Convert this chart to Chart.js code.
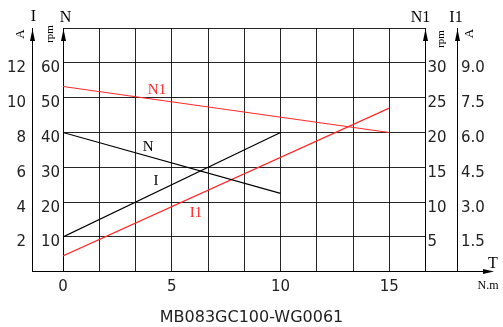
<!DOCTYPE html>
<html><head><meta charset="utf-8">
<script src="https://cdn.jsdelivr.net/npm/chart.js@4"></script>
<style>html,body{margin:0;padding:0;background:#fff}canvas{display:block}</style>
</head><body>
<canvas id="c" width="503" height="327"></canvas>
<script>
// ---- data ----
const torqueNI = [0, 10];          // N.m, for N and I curves
const speedN = [40, 22.5];         // rpm
const currentI = [2, 8];           // A
const torqueN1I1 = [0, 15];        // N.m, for N1 and I1 curves
const speedN1 = [26.6, 20];        // rpm
const currentI1 = [0.68, 7.05];    // A

// ---- ticks ----
const torqueTicks = [0, 5, 10, 15];
const speedTicks = [10, 20, 30, 40, 50, 60];
const currentTicks = [2, 4, 6, 8, 10, 12];
const speedN1Ticks = [5, 10, 15, 20, 25, 30];
const currentI1Ticks = [1.5, 3.0, 4.5, 6.0, 7.5, 9.0];
const torqueGridCount = 10;
const torqueMax = 50 / 3;
const speedMax = 70, speedN1Max = 35, currentMax = 14, currentI1Max = 10.5;
const chartTitle = 'MB083GC100-WG0061';

// curve name labels (in data units: torque, N-axis rpm)
const curveLabels = [
  { text: 'N1', t: 4.32, n: 52.1, color: '#ff2a2a' },
  { text: 'N',  t: 3.91, n: 35.9, color: '#000' },
  { text: 'I',  t: 4.28, n: 26.1, color: '#000' },
  { text: 'I1', t: 6.11, n: 16.8, color: '#ff2a2a' }
];

const RED = '#ff2a2a';
const GRID = 'rgba(0,0,0,0.85)';
const TICKFONT = { family: 'DejaVu Sans', size: 15 };
const SERIF = 'Liberation Serif';

function pts(xs, ys) { return xs.map((x, i) => ({ x, y: ys[i] })); }
function setTicks(list, max) {
  return function (scale) { scale.ticks = [0, ...list, max].map(v => ({ value: v })); };
}
function lbl(list, digits) {
  return function (v) {
    const r = Math.round(v * 1000) / 1000;
    return list.includes(r) ? (digits ? r.toFixed(digits) : String(r)) : '';
  };
}

const deco = {
  id: 'deco',
  afterDraw(chart) {
    const ctx = chart.ctx, s = chart.scales;
    const xA = s.x, yI = s.yI, yN = s.yN, yN1 = s.yN1, yI1 = s.yI1;
    const al = p => Math.round(p - 0.5) + 0.5;
    ctx.save();
    ctx.strokeStyle = '#000'; ctx.fillStyle = '#000'; ctx.lineWidth = 1;
    // extended T axis with arrow
    const by = al(xA.top);
    const tipX = 494;
    ctx.beginPath(); ctx.moveTo(al(yI.right), by); ctx.lineTo(tipX - 8, by); ctx.stroke();
    ctx.beginPath(); ctx.moveTo(tipX, by); ctx.lineTo(tipX - 11, by - 2.5); ctx.lineTo(tipX - 11, by + 2.5); ctx.closePath(); ctx.fill();
    // vertical axis arrows
    [al(yI.right), al(yN.right), al(yN1.left), al(yI1.left)].forEach(x => {
      ctx.beginPath(); ctx.moveTo(x, 29); ctx.lineTo(x - 2.5, 41); ctx.lineTo(x + 2.5, 41); ctx.closePath(); ctx.fill();
      ctx.beginPath(); ctx.moveTo(x, 35); ctx.lineTo(x, chart.chartArea.top); ctx.stroke();
    });
    // axis titles
    ctx.textAlign = 'center'; ctx.textBaseline = 'middle';
    ctx.font = '16px "' + SERIF + '"';
    ctx.fillText('I', yI.right + 1.5, 17);
    ctx.fillText('N', yN.right + 2.5, 17.5);
    ctx.fillText('N1', yN1.left - 5, 18);
    ctx.fillText('I1', yI1.left - 1, 18);
    ctx.fillText('T', 493, 264);
    ctx.font = '12px "' + SERIF + '"';
    ctx.fillText('N.m', 488, 285.5);
    const rot = (txt, x, y, size) => {
      ctx.save(); ctx.translate(x, y); ctx.rotate(-Math.PI / 2);
      ctx.font = size + 'px "' + SERIF + '"'; ctx.fillText(txt, 0, 0); ctx.restore();
    };
    rot('A', yI.right - 11, 34, 13);
    rot('rpm', yN.right - 13, 34, 11);
    rot('rpm', yN1.left + 16, 39, 11);
    rot('A', yI1.left + 13, 33.5, 13);
    // curve labels
    ctx.font = '15px "' + SERIF + '"';
    curveLabels.forEach(c => {
      ctx.fillStyle = c.color;
      ctx.fillText(c.text, xA.getPixelForValue(c.t), yN.getPixelForValue(c.n));
    });
    ctx.restore();
  }
};

new Chart(document.getElementById('c'), {
  type: 'line',
  data: {
    datasets: [
      { label: 'N1', data: pts(torqueN1I1, speedN1), yAxisID: 'yN1', borderColor: RED },
      { label: 'N', data: pts(torqueNI, speedN), yAxisID: 'yN', borderColor: '#000' },
      { label: 'I', data: pts(torqueNI, currentI), yAxisID: 'yI', borderColor: '#000' },
      { label: 'I1', data: pts(torqueN1I1, currentI1), yAxisID: 'yI1', borderColor: RED }
    ].map(d => Object.assign(d, { borderWidth: 1.2, pointRadius: 0, fill: false, tension: 0 }))
  },
  options: {
    responsive: false,
    animation: false,
    devicePixelRatio: 1,
    layout: { padding: { top: 28, left: 0, right: 0, bottom: 0 } },
    plugins: {
      legend: { display: false },
      tooltip: { enabled: false },
      title: {
        display: true, text: chartTitle, position: 'bottom', color: '#222',
        font: { family: 'DejaVu Sans', size: 16, weight: 'normal', lineHeight: 1.2 },
        padding: { top: 0, bottom: 0 }
      }
    },
    scales: {
      x: {
        type: 'linear', min: 0, max: torqueMax,
        afterBuildTicks: sc => { sc.ticks = Array.from({ length: torqueGridCount + 1 }, (_, k) => ({ value: k * torqueMax / torqueGridCount })); },
        afterFit: sc => { sc.height = 36; },
        ticks: { autoSkip: false, maxRotation: 0, padding: 6, color: '#222', font: TICKFONT, callback: lbl(torqueTicks) },
        grid: { color: GRID, lineWidth: 1, drawTicks: false },
        border: { color: '#000', width: 1 }
      },
      yI: {
        position: 'left', weight: 2, min: 0, max: currentMax,
        afterBuildTicks: setTicks(currentTicks, currentMax),
        afterFit: sc => { sc.width = 32; },
        ticks: { padding: 6, labelOffset: 5.5, color: '#222', font: TICKFONT, callback: lbl(currentTicks) },
        grid: { display: false, drawTicks: false },
        border: { color: '#000', width: 1 }
      },
      yN: {
        position: 'left', weight: 1, min: 0, max: speedMax,
        afterBuildTicks: setTicks(speedTicks, speedMax),
        afterFit: sc => { sc.width = 31; },
        ticks: { padding: 3, labelOffset: 5.5, color: '#222', font: TICKFONT, callback: lbl(speedTicks) },
        grid: { color: GRID, lineWidth: 1, drawTicks: false },
        border: { color: '#000', width: 1 }
      },
      yN1: {
        position: 'right', weight: 1, min: 0, max: speedN1Max,
        afterBuildTicks: setTicks(speedN1Ticks, speedN1Max),
        afterFit: sc => { sc.width = 31.5; },
        ticks: { padding: 2, labelOffset: 5.5, color: '#222', font: TICKFONT, callback: lbl(speedN1Ticks) },
        grid: { display: false, drawTicks: false },
        border: { color: '#000', width: 1 }
      },
      yI1: {
        position: 'right', weight: 2, min: 0, max: currentI1Max,
        afterBuildTicks: setTicks(currentI1Ticks, currentI1Max),
        afterFit: sc => { sc.width = 46; },
        ticks: { padding: 4, labelOffset: 5.5, color: '#222', font: TICKFONT, callback: lbl(currentI1Ticks, 1) },
        grid: { display: false, drawTicks: false },
        border: { color: '#000', width: 1 }
      }
    }
  },
  plugins: [deco]
});
</script>
</body></html>
